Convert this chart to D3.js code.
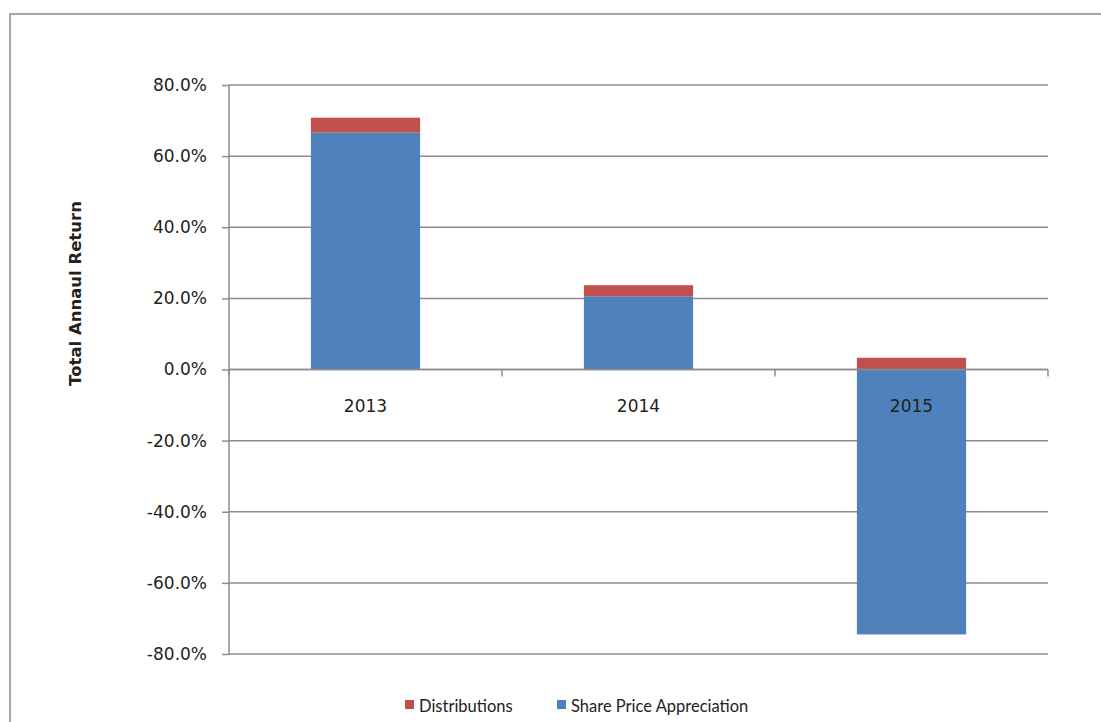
<!DOCTYPE html>
<html>
<head>
<meta charset="utf-8">
<script src="https://cdn.jsdelivr.net/npm/d3@7"></script>
<style>
  body { margin: 0; background: #fff; }
  svg { display: block; }
</style>
</head>
<body>
<div id="chart"></div>
<script>
// chart data
const years = ['2013', '2014', '2015'];
const sharePrice = [66.6, 20.6, -74.5];
const distributions = [4.2, 3.1, 3.3];
const yTicks = [80, 60, 40, 20, 0, -20, -40, -60, -80];
const seriesNames = ['Distributions', 'Share Price Appreciation'];
const seriesColors = ['#C0504D', '#4F81BD'];

const width = 1101, height = 722;
const plot = {left: 229, right: 1048, top: 85, bottom: 654};

const svg = d3.select('#chart').append('svg')
    .attr('width', width).attr('height', height);

// outer chart border
svg.append('rect')
    .attr('x', 10).attr('y', 14)
    .attr('width', width + 20).attr('height', height + 20)
    .attr('fill', '#fff').attr('stroke', '#a6a6a6').attr('stroke-width', 2);

const x = d3.scaleBand().domain(years).range([plot.left, plot.right]).paddingInner(0.6).paddingOuter(0.3);
const xEdges = d3.scaleBand().domain(years).range([plot.left, plot.right]);
const y = d3.scaleLinear().domain([-80, 80]).range([plot.bottom, plot.top]);

// gridlines
svg.append('g').selectAll('line.grid')
    .data(yTicks).join('line')
    .classed('grid', true)
    .attr('x1', plot.left).attr('x2', plot.right)
    .attr('y1', d => y(d)).attr('y2', d => y(d))
    .attr('stroke', '#8c8c8c').attr('stroke-width', 1.5);

// y axis
const yAxis = svg.append('g')
    .attr('transform', `translate(${plot.left},0)`)
    .call(d3.axisLeft(y).tickValues(yTicks).tickSize(7).tickPadding(15)
        .tickFormat(d => d.toFixed(1) + '%'));
yAxis.selectAll('path, line').attr('stroke', '#8c8c8c').attr('stroke-width', 1.5);
yAxis.select('.domain').attr('d', `M0,${plot.top}V${plot.bottom}`);
yAxis.selectAll('text')
    .attr('font-family', 'DejaVu Sans').attr('font-size', 17).attr('fill', '#222');

// stacked data
const stackData = years.map((yr, i) => ({year: yr, share: sharePrice[i], dist: distributions[i]}));
const bars = svg.append('g');
bars.selectAll('rect.share')
    .data(stackData).join('rect')
    .classed('share', true)
    .attr('x', d => x(d.year)).attr('width', x.bandwidth())
    .attr('y', d => y(Math.max(0, d.share)))
    .attr('height', d => Math.abs(y(d.share) - y(0)))
    .attr('fill', seriesColors[1]);
bars.selectAll('rect.dist')
    .data(stackData).join('rect')
    .classed('dist', true)
    .attr('x', d => x(d.year)).attr('width', x.bandwidth())
    .attr('y', d => y(Math.max(0, d.share) + d.dist))
    .attr('height', d => y(Math.max(0, d.share)) - y(Math.max(0, d.share) + d.dist))
    .attr('fill', seriesColors[0]);

// x axis at zero
const xAxis = svg.append('g')
    .attr('transform', `translate(0,${y(0)})`);
xAxis.append('line')
    .attr('x1', plot.left).attr('x2', plot.right)
    .attr('stroke', '#8c8c8c').attr('stroke-width', 1.5);
xAxis.selectAll('line.tick')
    .data(years.map(d => xEdges(d)).concat([plot.right])).join('line')
    .classed('tick', true)
    .attr('x1', d => d).attr('x2', d => d)
    .attr('y1', 0).attr('y2', 7)
    .attr('stroke', '#8c8c8c').attr('stroke-width', 1.5);
xAxis.selectAll('text')
    .data(years).join('text')
    .attr('x', d => x(d) + x.bandwidth() / 2)
    .attr('y', 42)
    .attr('text-anchor', 'middle')
    .attr('font-family', 'DejaVu Sans').attr('font-size', 17).attr('fill', '#222')
    .text(d => d);

// y title
svg.append('text')
    .attr('transform', `translate(81,${(plot.top + plot.bottom) / 2 - 76}) rotate(-90)`)
    .attr('text-anchor', 'middle')
    .attr('font-family', 'DejaVu Sans').attr('font-weight', 'bold')
    .attr('font-size', 16.5).attr('fill', '#222')
    .text('Total Annaul Return');

// legend
const legendX = [405, 557];
const legend = svg.append('g').selectAll('g')
    .data(seriesNames).join('g')
    .attr('transform', (d, i) => `translate(${legendX[i]},698)`);
legend.append('rect')
    .attr('width', 9).attr('height', 9).attr('y', 2)
    .attr('fill', (d, i) => seriesColors[i]);
legend.append('text')
    .attr('x', 14).attr('y', 14)
    .attr('font-family', 'Lato').attr('font-size', 16.5).attr('fill', '#222')
    .text(d => d);
</script>
</body>
</html>
